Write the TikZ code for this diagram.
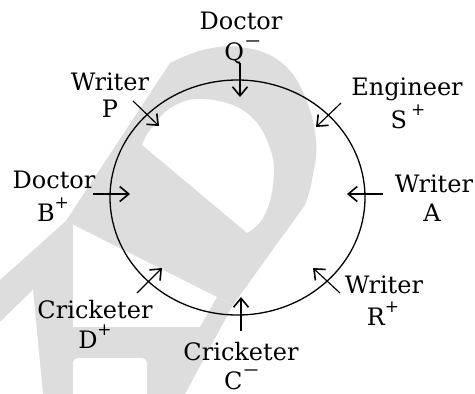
\documentclass[tikz,border=0pt]{standalone}
\usepackage{fontspec}
\setmainfont{DejaVu Serif}
\usetikzlibrary{arrows.meta,shapes.geometric}
\definecolor{wm}{RGB}{221,221,221}
\newcommand\supplus{\raisebox{13pt}[0pt][0pt]{\fontsize{17}{17}\selectfont +}}
\newcommand\supminus{\raisebox{13.5pt}[0pt][0pt]{\fontsize{16}{16}\selectfont\scalebox{1.3}[1]{−}}}
\begin{document}
\begin{tikzpicture}[x=1pt,y=-1pt,
  lbl/.style={font=\fontsize{24}{28}\selectfont, inner sep=0pt, anchor=base},
  arr/.style={-{Straight Barb[length=9pt,width=15pt,line width=1.6pt]}, line width=1.15pt},
  ring/.style={draw, ellipse, line width=1.3pt, inner sep=0pt}]
\useasboundingbox (0,0) rectangle (475,394);
% watermark
\fill[wm, even odd rule]
  (66,221) -- (170,63) -- plot[smooth, tension=0.7] coordinates {(170,63) (203,50) (240,47) (278,60) (303,92) (316,140) (312,180) (305,205)} -- (233,305) -- cycle
  (142,145) -- (247,233) -- plot[smooth, tension=0.7] coordinates {(247,233) (263,218) (273,185) (270,148) (247,113) (205,99) (172,107) (150,130) (142,145)} -- cycle;
\fill[wm] (0,280) -- (66,221) -- (73,225) -- (73,327) -- (200,327) -- (217,297) -- (233,305) -- (185,394) -- (0,394) -- cycle;
\fill[white] (0,322) -- (33,290) -- (43,394) -- (0,394) -- cycle;
\fill[white, rounded corners=5pt] (73,358) rectangle (147,400);
% circle
\node[ring, minimum width=255pt, minimum height=235pt] (circ) at (237.5,197.5) {};
% labels
\node[lbl] (q1) at (241,29) {Doctor};
\node[lbl] (q2) at (243,60) {Q\supminus};
\node[lbl] (p1) at (110,90) {Writer};
\node[lbl] (p2) at (110,117) {P};
\node[lbl] (s1) at (407,95) {Engineer};
\node[lbl] (s2) at (408,128) {S\,\supplus};
\node[lbl] (b1) at (54,188) {Doctor};
\node[lbl] (b2) at (53,221) {B\supplus};
\node[lbl] (a1) at (434,192) {Writer};
\node[lbl] (a2) at (432,221) {A};
\node[lbl] (r1) at (384,293) {Writer};
\node[lbl] (r2) at (383,325) {R\supplus};
\node[lbl] (d1) at (95,318) {Cricketer};
\node[lbl] (d2) at (95,348) {D\supplus};
\node[lbl] (c1) at (241,360) {Cricketer};
\node[lbl] (c2) at (242,389) {C\supminus};
% arrow ends
\coordinate (qs) at (240,63);  \coordinate (qe) at (240,97);
\coordinate (ps) at (133,101); \coordinate (pe) at (159,126);
\coordinate (ss) at (341,103); \coordinate (se) at (316,127);
\coordinate (bs) at (93,194);  \coordinate (be) at (130,194);
\coordinate (as) at (383,194); \coordinate (ae) at (347,194);
\coordinate (rs) at (340,293); \coordinate (re) at (313,268);
\coordinate (ds) at (137,293); \coordinate (de) at (162,268);
\coordinate (cs) at (241,331); \coordinate (ce) at (241,297);
\draw[arr] (qs) -- (qe);
\draw[arr] (ps) -- (pe);
\draw[arr] (ss) -- (se);
\draw[arr] (bs) -- (be);
\draw[arr] (as) -- (ae);
\draw[arr] (rs) -- (re);
\draw[arr] (ds) -- (de);
\draw[arr] (cs) -- (ce);
\end{tikzpicture}
\end{document}
